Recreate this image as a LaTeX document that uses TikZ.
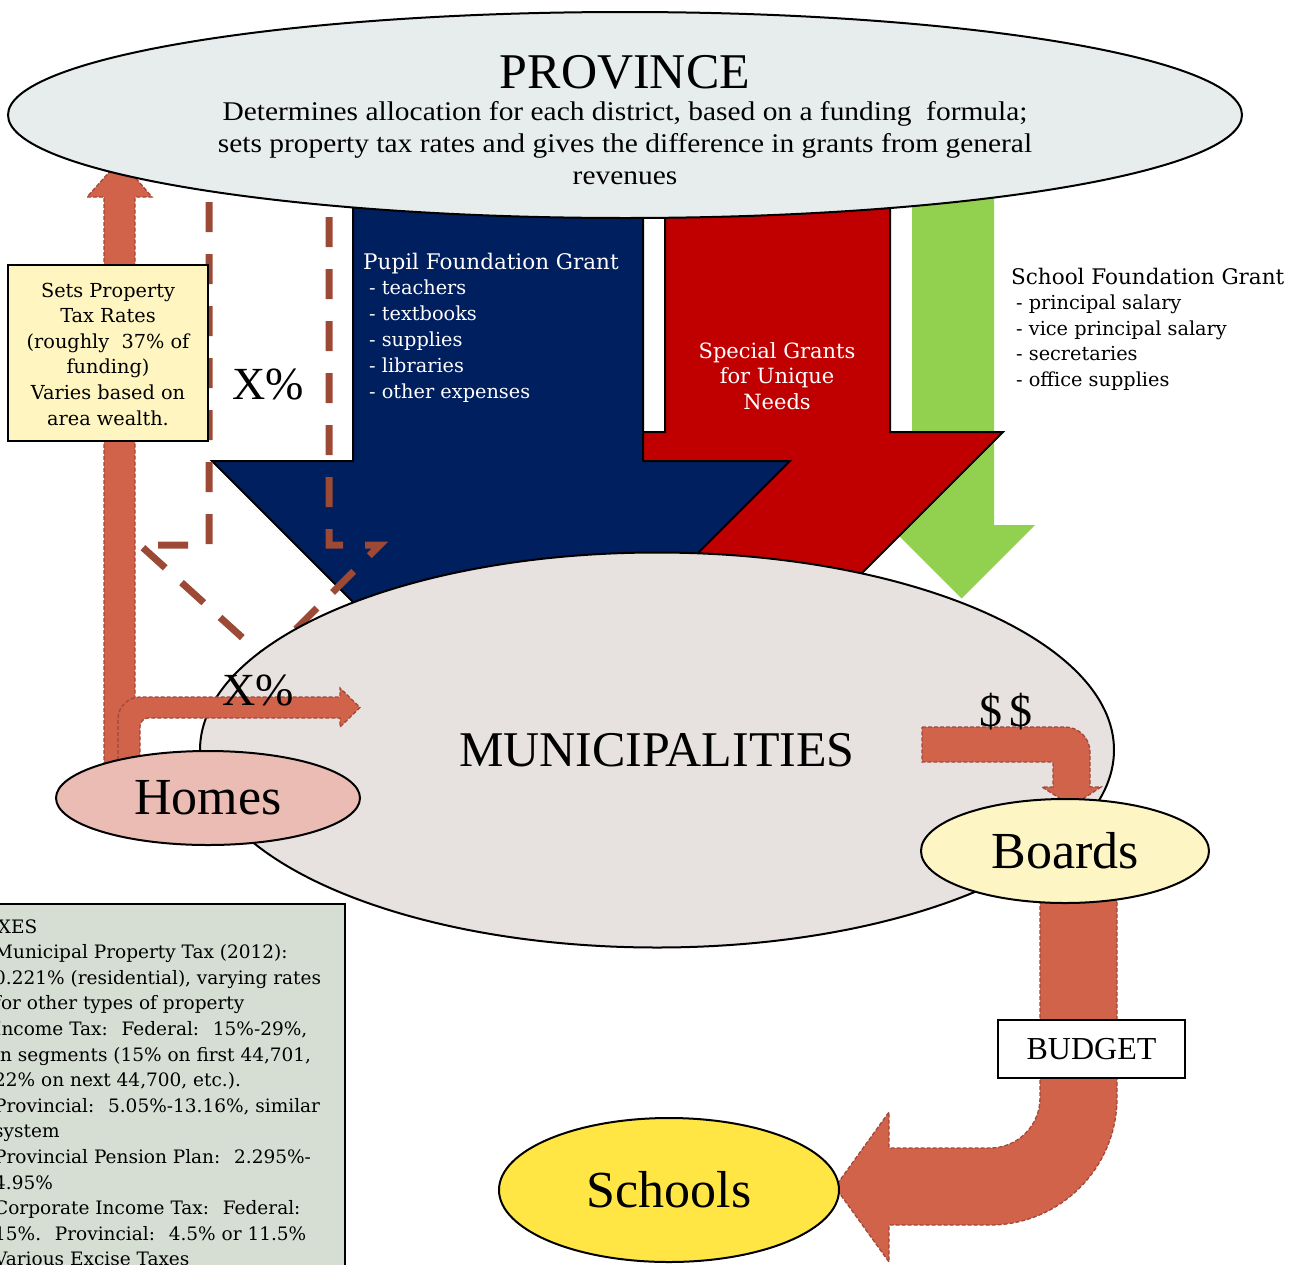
\documentclass[tikz,border=0pt]{standalone}
\usepackage{fontspec}
\setmainfont{Liberation Serif}
\newfontfamily\bodyf{DejaVu Serif}
\newfontfamily\provf[FakeStretch=1.09]{Liberation Serif}
\usetikzlibrary{shapes.geometric}
\newcommand{\myfs}[2]{\fontsize{#1}{#2}\selectfont}
\definecolor{provfill}{HTML}{E7ECEC}
\definecolor{munifill}{HTML}{E7E2E0}
\definecolor{homefill}{HTML}{EBBCB3}
\definecolor{boardfill}{HTML}{FEF5C4}
\definecolor{schoolfill}{HTML}{FFE645}
\definecolor{setsfill}{HTML}{FFF5C0}
\definecolor{taxfill}{HTML}{D6DED3}
\definecolor{orangefill}{HTML}{D0634A}
\definecolor{orangeline}{HTML}{A2473A}
\definecolor{dashbrown}{HTML}{9C4935}
\definecolor{navy}{HTML}{001F5F}
\definecolor{darkred}{HTML}{C00000}
\definecolor{lgreen}{HTML}{92D050}
\begin{document}
\begin{tikzpicture}[x=1pt,y=-1pt,
  orangearrow/.style={fill=orangefill, draw=orangeline, line width=1.3pt, dash pattern=on 4pt off 2pt},
  bigarrow/.style={draw=black, line width=2pt, line join=miter},
  dashline/.style={draw=dashbrown, line width=7pt, dash pattern=on 30pt off 22pt},
  oval/.style={ellipse, draw=black, line width=2pt, inner sep=0pt},
  bigtxt/.style={font=\myfs{52}{60}},
  bodytxt/.style={inner sep=0pt, font={\bodyf\myfs{20.5}{25}}},
  titletxt/.style={inner sep=0pt, font={\bodyf\myfs{21.5}{25}}},
  itemtxt/.style={inner sep=0pt, font={\bodyf\myfs{19.3}{25}}},
  taxtext/.style={anchor=base west, inner sep=0pt, font={\bodyf\myfs{18.5}{23}}}]
\useasboundingbox (0,0) rectangle (1304,1264);
\clip (0,0) rectangle (1304,1264);

% grant arrows
\fill[lgreen] (912,150) -- (912,525) -- (888,525) -- (961.5,598.5) -- (1035,525) -- (994,525) -- (994,150) -- cycle;
\filldraw[bigarrow, fill=darkred] (665,150) -- (665,432) -- (552,432) -- (777.5,657.5) -- (1003,432) -- (890,432) -- (890,150) -- cycle;
\filldraw[bigarrow, fill=navy] (353,150) -- (353,461) -- (212,461) -- (501,750) -- (790,461) -- (643,461) -- (643,150) -- cycle;

% dashed X% arrow outline
\draw[dashline] (209,150) -- (209,545) -- (140,545) -- (266,659) -- (380,545) -- (329,545) -- (329,150);

% tax arrow up to province
\filldraw[orangearrow] (104,790) -- (104,197) -- (87,197) -- (120,160) -- (152,197) -- (135,197) -- (135,790) -- cycle;

% province
\node[oval, fill=provfill, minimum width=1234pt, minimum height=206pt] (prov) at (625,115) {};
\node[anchor=base, inner sep=0pt, font=\myfs{50}{60}] (provtitle) at (625,88) {PROVINCE};
\foreach \t [count=\i from 0] in {{Determines allocation for each district, based on a funding~ formula;},{sets property tax rates and gives the difference in grants from general},{revenues}}
  \node[anchor=base, inner sep=0pt, font={\provf\myfs{27}{32}}] (provl\i) at (625,120+32*\i) {\t};

% municipalities
\node[oval, fill=munifill, minimum width=914pt, minimum height=395pt, font=\myfs{50}{60}] (muni) at (657,750) {MUNICIPALITIES};

% homes to municipalities arrow
\filldraw[orangearrow] (118,790) -- (118,719) .. controls (118,707) and (128,697) .. (140,697) -- (340,697) -- (340,688) -- (360,707.5) -- (340,727) -- (340,718) -- (148,718) .. controls (143.6,718) and (140,722.4) .. (140,726) -- (140,790) -- cycle;
\node[oval, fill=homefill, minimum width=304pt, minimum height=94pt, bigtxt] (homes) at (208,798) {Homes};

% $$ arrow to boards
\filldraw[orangearrow] (922,727) -- (1065,727) .. controls (1078.8,727) and (1090,738.2) .. (1090,752) -- (1090,787) -- (1101,787) -- (1072,806) -- (1042,787) -- (1053,787) -- (1053,762) -- (922,762) -- cycle;

% budget arrow to schools
\filldraw[orangearrow] (1040,870) -- (1040,1098) .. controls (1040,1125.6) and (1017.6,1148) .. (990,1148) -- (889,1148) -- (889,1112) -- (835,1187) -- (889,1262) -- (889,1225) -- (990,1225) .. controls (1060,1225) and (1117,1168) .. (1117,1098) -- (1117,870) -- cycle;

\node[oval, fill=boardfill, minimum width=288pt, minimum height=104pt, bigtxt] (boards) at (1065,851) {Boards};
\node[oval, fill=schoolfill, minimum width=340pt, minimum height=144pt, bigtxt] (schools) at (669,1190) {Schools};
\node[draw=black, line width=1.5pt, fill=white, minimum width=187pt, minimum height=58pt, inner sep=0pt, font=\myfs{32}{36}] (budget) at (1091.5,1049) {BUDGET};

% labels
\node[inner sep=0pt, font=\myfs{46}{50}] (xpct1) at (268,385) {X\%};
\node[inner sep=0pt, font=\myfs{46}{50}] (xpct2) at (258,690) {X\%};
\node[inner sep=0pt, font=\myfs{46}{50}] (dollars) at (1006,712) {\$\,\$};

% sets property box
\node[draw=black, line width=2pt, fill=setsfill, minimum width=200pt, minimum height=176pt, inner sep=0pt] (setsbox) at (108,353) {};
\foreach \t [count=\i from 0] in {{Sets Property},{Tax Rates},{(roughly~ 37\% of},{funding)},{Varies based on},{area wealth.}}
  \node[inner sep=0pt, font={\bodyf\myfs{19.3}{25}}, anchor=base] (sets\i) at (108,297+25.6*\i) {\t};

% pupil foundation grant text
\node[titletxt, anchor=base west, text=white] (pupil0) at (363,269) {Pupil Foundation Grant};
\foreach \t [count=\i from 1] in {{- teachers},{- textbooks},{- supplies},{- libraries},{- other expenses}}
  \node[itemtxt, anchor=base west, text=white] (pupil\i) at (369,269+25.8*\i) {\t};

% special grants text
\foreach \t [count=\i from 0] in {{Special Grants},{for Unique},{Needs}}
  \node[bodytxt, font={\bodyf\myfs{21}{25}}, anchor=base, text=white] (spec\i) at (777,358+25.6*\i) {\t};

% school foundation grant text
\node[titletxt, anchor=base west] (school0) at (1011,284) {School Foundation Grant};
\foreach \t [count=\i from 1] in {{- principal salary},{- vice principal salary},{- secretaries},{- office supplies}}
  \node[itemtxt, anchor=base west] (school\i) at (1016,284+25.6*\i) {\t};

% taxes box
\node[draw=black, line width=1.5pt, fill=taxfill, minimum width=364pt, minimum height=400pt, inner sep=0pt, anchor=north west] (taxbox) at (-20,903) {};
\node[taxtext] (taxtitle) at (-27,933) {TAXES};
\foreach \t [count=\i from 0] in {{Municipal Property Tax (2012):},{0.221\% (residential), varying rates},{for other types of property},{Income Tax:~ Federal:~ 15\%-29\%,},{in segments (15\% on first 44,701,},{22\% on next 44,700, etc.).},{Provincial:~ 5.05\%-13.16\%, similar},{system},{Provincial Pension Plan:~ 2.295\%-},{4.95\%},{Corporate Income Tax:~ Federal:},{15\%.~ Provincial:~ 4.5\% or 11.5\%},{Various Excise Taxes}}
  \node[taxtext] (tax\i) at (-6,958.6+25.6*\i) {\t};
\end{tikzpicture}
\end{document}
